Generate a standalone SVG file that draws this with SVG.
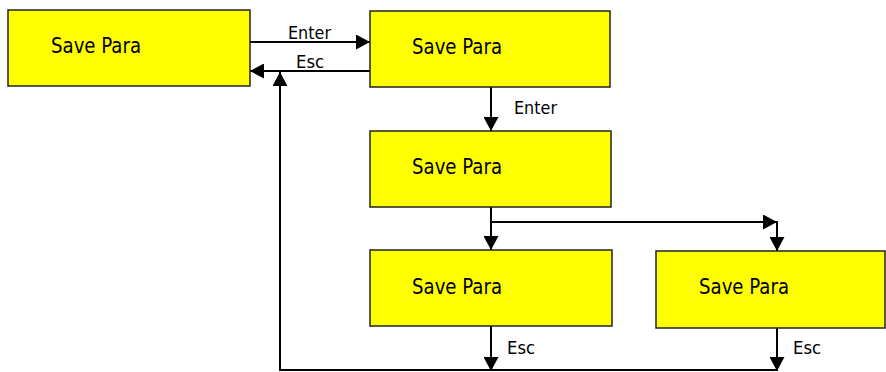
<svg xmlns="http://www.w3.org/2000/svg" width="886" height="372" viewBox="0 0 886 372">
<defs>
<style>
.box{fill:#ffff00;stroke:#222;stroke-width:1.5}
.t{font-family:"DejaVu Sans Condensed","DejaVu Sans",sans-serif;font-size:21px;fill:#000}
.l{font-family:"DejaVu Sans Condensed","DejaVu Sans",sans-serif;font-size:18px;fill:#000}
.c{fill:none;stroke:#000;stroke-width:2}
</style>
<marker id="ah" markerWidth="14" markerHeight="15" refX="14" refY="7.5" orient="auto" markerUnits="userSpaceOnUse">
<path d="M0,0 L14,7.5 L0,15 Z" fill="#000"/>
</marker>
</defs>
<rect width="886" height="372" fill="#fff"/>
<g id="connectors">
<line class="c" x1="250" y1="42" x2="370" y2="42" marker-end="url(#ah)"/>
<line class="c" x1="370" y1="71" x2="250" y2="71" marker-end="url(#ah)"/>
<line class="c" x1="491" y1="87" x2="491" y2="131" marker-end="url(#ah)"/>
<line class="c" x1="491" y1="207" x2="491" y2="250" marker-end="url(#ah)"/>
<polyline class="c" points="491,222 777,222" marker-end="url(#ah)"/>
<line class="c" x1="777" y1="221" x2="777" y2="251" marker-end="url(#ah)"/>
<line class="c" x1="491" y1="326" x2="491" y2="371" marker-end="url(#ah)"/>
<line class="c" x1="777" y1="328" x2="777" y2="371" marker-end="url(#ah)"/>
<polyline class="c" points="777,370 280,370 280,72" marker-end="url(#ah)"/>
<text class="l" x="288" y="39" textLength="43" lengthAdjust="spacingAndGlyphs">Enter</text>
<text class="l" x="296" y="68" textLength="28" lengthAdjust="spacingAndGlyphs">Esc</text>
<text class="l" x="514" y="114" textLength="43" lengthAdjust="spacingAndGlyphs">Enter</text>
<text class="l" x="507" y="354" textLength="28" lengthAdjust="spacingAndGlyphs">Esc</text>
<text class="l" x="793" y="354" textLength="28" lengthAdjust="spacingAndGlyphs">Esc</text>
</g>
<g id="n1"><rect class="box" x="8" y="10" width="242" height="76"/><text class="t" x="51" y="53" textLength="90" lengthAdjust="spacingAndGlyphs">Save Para</text></g>
<g id="n2"><rect class="box" x="370" y="11" width="240" height="76"/><text class="t" x="412" y="54" textLength="90" lengthAdjust="spacingAndGlyphs">Save Para</text></g>
<g id="n3"><rect class="box" x="370" y="131" width="241" height="76"/><text class="t" x="412" y="174" textLength="90" lengthAdjust="spacingAndGlyphs">Save Para</text></g>
<g id="n4"><rect class="box" x="370" y="250" width="242" height="76"/><text class="t" x="412" y="294" textLength="90" lengthAdjust="spacingAndGlyphs">Save Para</text></g>
<g id="n5"><rect class="box" x="656" y="251" width="229" height="77"/><text class="t" x="699" y="294" textLength="90" lengthAdjust="spacingAndGlyphs">Save Para</text></g>
</svg>
